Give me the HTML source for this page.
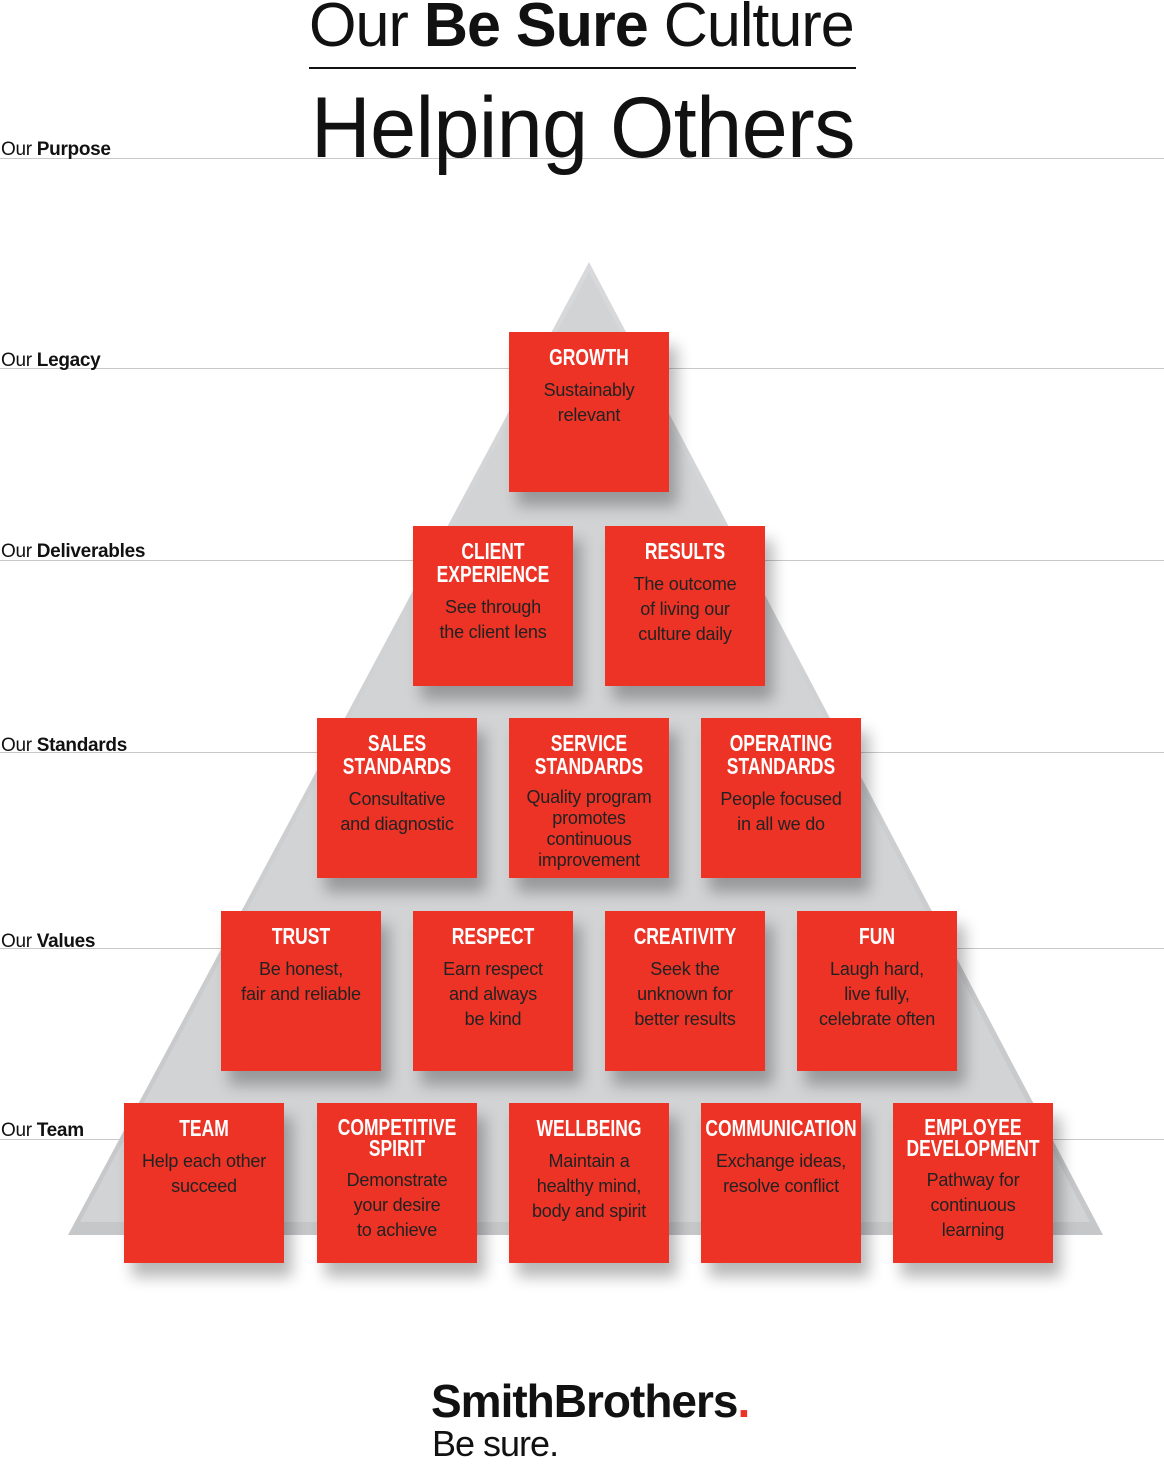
<!DOCTYPE html>
<html><head><meta charset="utf-8"><style>
body{margin:0;width:1164px;height:1459px;background:#fff;position:relative;overflow:hidden;font-family:"Liberation Sans",sans-serif}
.ln{position:absolute;left:0;width:1164px;height:1px;background:#c8c8c8}
.lb{position:absolute;left:1px;font-size:19px;color:#111;letter-spacing:-0.3px}
.lb b{font-weight:bold}
.bx{position:absolute;width:160px;height:160px;background:#ec3326;box-shadow:8px 14px 14px rgba(0,0,0,0.28);text-align:center;color:#222}
.t{font-weight:bold;color:#fff;font-size:23px;line-height:23px;margin-top:14px;transform:scaleX(0.76);white-space:nowrap;margin-left:-40px;margin-right:-40px}
.d{font-size:18px;line-height:25px;margin-top:9px;letter-spacing:-0.2px}
</style></head><body>
<div class="ln" style="top:158px"></div>
<div class="ln" style="top:368px"></div>
<div class="ln" style="top:560px"></div>
<div class="ln" style="top:752px"></div>
<div class="ln" style="top:948px"></div>
<div class="ln" style="top:1139px"></div>
<svg style="position:absolute;left:0;top:0" width="1164" height="1459">
<defs><linearGradient id="g" x1="0" y1="0" x2="0" y2="1"><stop offset="0" stop-color="#d8d9db"/><stop offset="1" stop-color="#c6c7c9"/></linearGradient></defs>
<polygon points="589,262 1103,1235 68,1235" fill="url(#g)"/>
<polygon points="589,272 1090,1222 80,1222" fill="#d2d3d5"/>
</svg>
<div class="lb" style="top:139px">Our <b>Purpose</b></div>
<div class="lb" style="top:350px">Our <b>Legacy</b></div>
<div class="lb" style="top:541px">Our <b>Deliverables</b></div>
<div class="lb" style="top:735px">Our <b>Standards</b></div>
<div class="lb" style="top:931px">Our <b>Values</b></div>
<div class="lb" style="top:1120px">Our <b>Team</b></div>
<div style="position:absolute;left:309px;top:-10px;width:547px;text-align:center;font-size:62px;line-height:72px;color:#111;letter-spacing:-1px;white-space:nowrap;transform:scaleX(0.985);transform-origin:left">Our <b>Be Sure</b> Culture</div>
<div style="position:absolute;left:309px;top:67px;width:547px;height:2px;background:#111"></div>
<div style="position:absolute;left:311px;top:78px;font-size:86px;line-height:100px;color:#111;white-space:nowrap;letter-spacing:-0.5px;transform:scaleX(0.96);transform-origin:left">Helping Others</div>

<div class="bx" style="left:509px;top:332px"><div class="t">GROWTH</div><div class="d">Sustainably<br>relevant</div></div>

<div class="bx" style="left:413px;top:526px"><div class="t">CLIENT<br>EXPERIENCE</div><div class="d">See through<br>the client lens</div></div>
<div class="bx" style="left:605px;top:526px"><div class="t">RESULTS</div><div class="d">The outcome<br>of living our<br>culture daily</div></div>

<div class="bx" style="left:317px;top:718px"><div class="t">SALES<br>STANDARDS</div><div class="d">Consultative<br>and diagnostic</div></div>
<div class="bx" style="left:509px;top:718px"><div class="t">SERVICE<br>STANDARDS</div><div class="d" style="line-height:21px">Quality program<br>promotes<br>continuous<br>improvement</div></div>
<div class="bx" style="left:701px;top:718px"><div class="t">OPERATING<br>STANDARDS</div><div class="d">People focused<br>in all we do</div></div>

<div class="bx" style="left:221px;top:911px"><div class="t">TRUST</div><div class="d">Be honest,<br>fair and reliable</div></div>
<div class="bx" style="left:413px;top:911px"><div class="t">RESPECT</div><div class="d">Earn respect<br>and always<br>be kind</div></div>
<div class="bx" style="left:605px;top:911px"><div class="t">CREATIVITY</div><div class="d">Seek the<br>unknown for<br>better results</div></div>
<div class="bx" style="left:797px;top:911px"><div class="t">FUN</div><div class="d">Laugh hard,<br>live fully,<br>celebrate often</div></div>

<div class="bx" style="left:124px;top:1103px"><div class="t">TEAM</div><div class="d">Help each other<br>succeed</div></div>
<div class="bx" style="left:317px;top:1103px"><div class="t" style="line-height:21px">COMPETITIVE<br>SPIRIT</div><div class="d">Demonstrate<br>your desire<br>to achieve</div></div>
<div class="bx" style="left:509px;top:1103px"><div class="t">WELLBEING</div><div class="d">Maintain a<br>healthy mind,<br>body and spirit</div></div>
<div class="bx" style="left:701px;top:1103px"><div class="t">COMMUNICATION</div><div class="d">Exchange ideas,<br>resolve conflict</div></div>
<div class="bx" style="left:893px;top:1103px"><div class="t" style="line-height:21px">EMPLOYEE<br>DEVELOPMENT</div><div class="d">Pathway for<br>continuous<br>learning</div></div>

<div style="position:absolute;left:431px;top:1374px;font-size:46px;font-weight:bold;letter-spacing:-1px;color:#111;line-height:54px">SmithBrothers<span style="color:#ec3326">.</span></div>
<div style="position:absolute;left:432px;top:1423px;font-size:36px;letter-spacing:-1px;color:#111;line-height:42px">Be sure.</div>
</body></html>
